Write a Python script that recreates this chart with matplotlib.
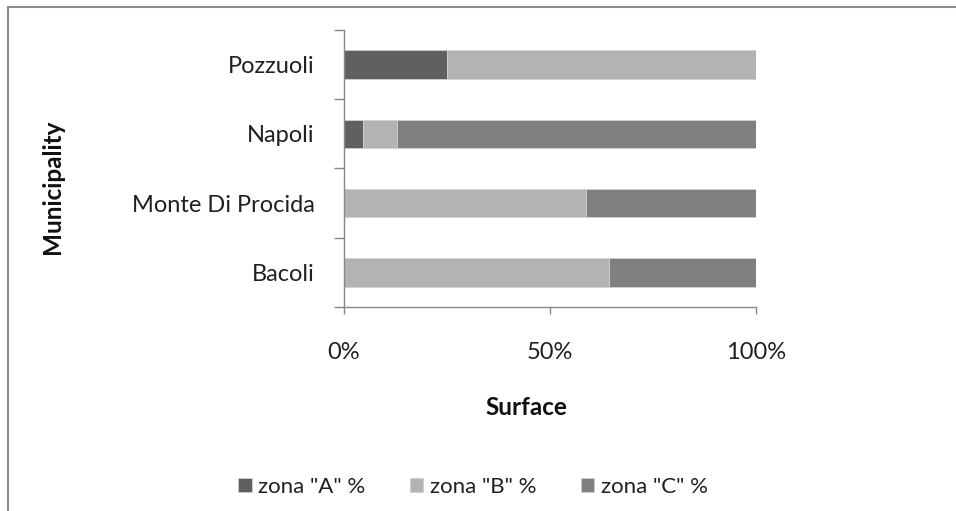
import matplotlib
matplotlib.use('Agg')
import matplotlib.pyplot as plt
from matplotlib.lines import Line2D

plt.rcParams['font.family'] = ['Lato', 'DejaVu Sans']

# data (percent of surface)
municipalities = ['Bacoli', 'Monte Di Procida', 'Napoli', 'Pozzuoli']
zona_a = [0, 0, 4.7, 25.0]
zona_b = [64.4, 58.8, 8.1, 75.0]
zona_c = [35.6, 41.2, 87.2, 0]
series_names = ['zona "A" %', 'zona "B" %', 'zona "C" %']
colors = ['#606060', '#b3b3b3', '#808080']
xticks = [0, 50, 100]
xtick_labels = ['0%', '50%', '100%']

fig = plt.figure(figsize=(9.56, 5.11), dpi=100)
ax = fig.add_axes([344 / 956, 1 - 307 / 511, 412 / 956, 277 / 511])

ypos = list(range(len(municipalities)))
left = [0] * len(municipalities)
for vals, name, col in zip([zona_a, zona_b, zona_c], series_names, colors):
    ax.barh(ypos, vals, left=left, height=0.41, color=col, edgecolor='#d0d0d0',
            linewidth=0.6, label=name)
    left = [l + v for l, v in zip(left, vals)]

ax.set_xlim(0, 100)
ax.set_ylim(-0.5, len(municipalities) - 0.5)

# category labels at the centres, tick marks at the boundaries
ax.set_yticks(ypos)
ax.set_yticklabels(municipalities, fontsize=17, color='#202020')
ax.tick_params(axis='y', which='major', length=0, pad=21)
ax.set_yticks([i - 0.5 for i in range(len(municipalities) + 1)], minor=True)
ax.tick_params(axis='y', which='minor', length=7, color='#888888', width=1)

ax.set_xticks(xticks)
ax.set_xticklabels(xtick_labels, fontsize=17, color='#202020')
ax.tick_params(axis='x', length=5, color='#888888', width=1, pad=20)

for s in ['top', 'right']:
    ax.spines[s].set_visible(False)
for s in ['left', 'bottom']:
    ax.spines[s].set_color('#888888')
    ax.spines[s].set_linewidth(1)

fig.text(526 / 956, 1 - 407 / 511, 'Surface', fontsize=17.5, fontweight='bold',
         ha='center', va='center', color='#101010')
fig.text(52 / 956, 1 - 187 / 511, 'Municipality', fontsize=17.5, fontweight='bold',
         rotation=90, ha='center', va='center', color='#101010')

fig.legend(loc='center', bbox_to_anchor=(473 / 956, 1 - 487 / 511), ncol=3,
           frameon=False, fontsize=16, handlelength=0.6, handleheight=0.6,
           handletextpad=0.3, columnspacing=2.0, labelcolor='#202020')

# chart frame (left and top edges visible)
fig.add_artist(Line2D([8 / 956, 8 / 956], [0, 1 - 7 / 511], transform=fig.transFigure,
                      color='#8c8c8c', linewidth=1.5))
fig.add_artist(Line2D([8 / 956, 1], [1 - 7 / 511, 1 - 7 / 511], transform=fig.transFigure,
                      color='#8c8c8c', linewidth=1.5))

fig.savefig('out.png', dpi=100)
